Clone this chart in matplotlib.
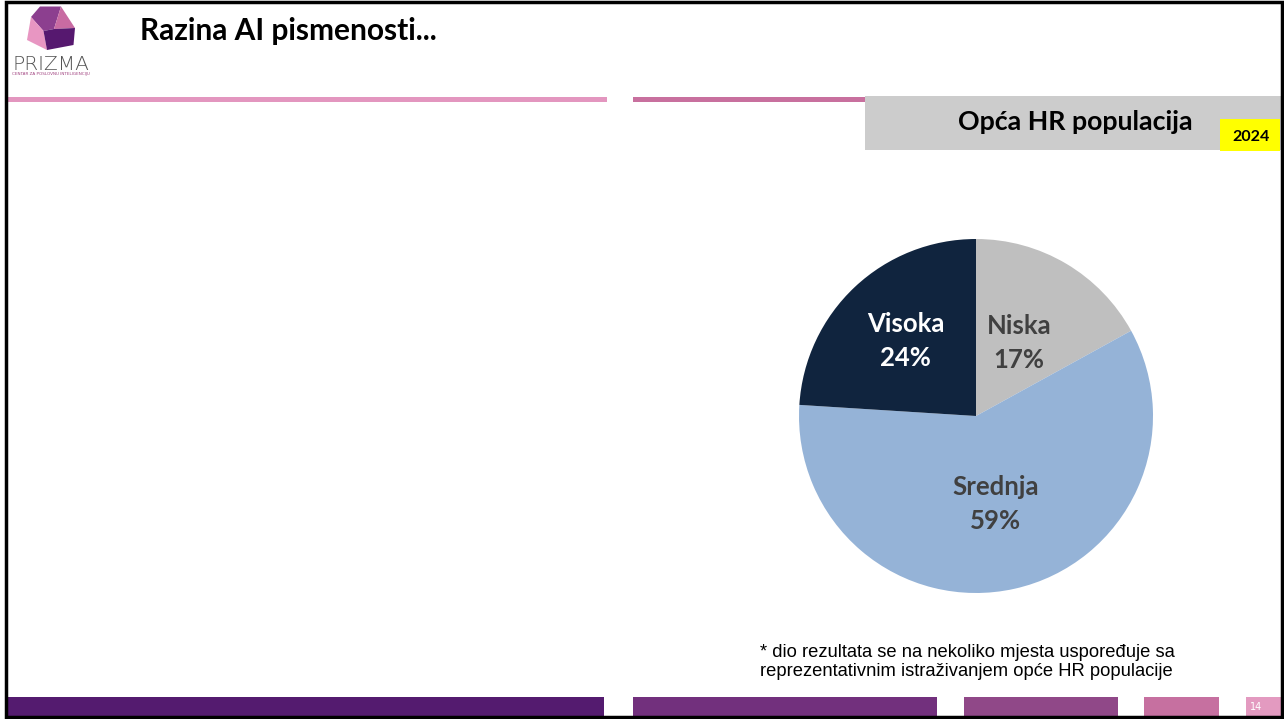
import numpy as np
import matplotlib.pyplot as plt
from matplotlib.patches import Rectangle, Polygon

# slide data
kategorije = ["Niska", "Srednja", "Visoka"]
postotci = [17, 59, 24]
boje = ["#BFBFBF", "#95B3D7", "#10243E"]
boje_teksta = ["#404040", "#404040", "white"]
udaljenost = [0.48, 0.51, 0.58]

naslov = "Razina AI pismenosti..."
podnaslov = "Opća HR populacija"
godina = "2024"
napomena = "* dio rezultata se na nekoliko mjesta uspoređuje sa\nreprezentativnim istraživanjem opće HR populacije"
stranica = "14"

W, H = 1284, 719
fig = plt.figure(figsize=(W / 100, H / 100), dpi=100)
fig.patch.set_facecolor("white")

# full-figure overlay in pixel coords (y downwards)
bg = fig.add_axes([0, 0, 1, 1])
bg.set_xlim(0, W)
bg.set_ylim(H, 0)
bg.axis("off")

def rect(x0, y0, x1, y1, c, **kw):
    bg.add_patch(Rectangle((x0, y0), x1 - x0, y1 - y0, facecolor=c, edgecolor="none", **kw))

# logo (gem made of four faces)
A, B, C, D = (40, 6.5), (61, 6.5), (75, 28), (73.5, 45)
E, F, G = (47, 50), (27, 40), (31, 17)
Hc, Ic = (43.5, 31), (54, 29)
bg.add_patch(Polygon([A, B, Ic, Hc, G], closed=True, facecolor="#8C3F8F", edgecolor="none"))
bg.add_patch(Polygon([B, C, Ic], closed=True, facecolor="#C86BA2", edgecolor="none"))
bg.add_patch(Polygon([G, Hc, E, F], closed=True, facecolor="#E896C2", edgecolor="none"))
bg.add_patch(Polygon([Hc, Ic, C, D, E], closed=True, facecolor="#56186F", edgecolor="none"))
bg.text(51, 64, "PRIZMA", fontsize=14.5, color="#555555", ha="center", va="center",
        family="DejaVu Sans", fontweight="light")
bg.text(51, 73.5, "CENTAR ZA POSLOVNU INTELIGENCIJU", fontsize=3.0, color="#A0407F",
        ha="center", va="center")

# title
bg.text(140, 31, naslov, fontsize=21.5, fontweight="bold", family="Lato", ha="left", va="center")

# header lines
rect(7, 97, 607, 102, "#E396BF")
rect(633, 97, 866, 102, "#C8709E")

# grey label box + year
rect(865, 96, 1281, 150, "#CCCCCC")
bg.text(1075, 122, podnaslov, fontsize=19.3, fontweight="bold", family="Lato", ha="center", va="center")
rect(1220, 119, 1280, 151, "#FFFF00")
bg.text(1251, 137, godina, fontsize=11.5, fontweight="bold", family="Lato", ha="center", va="center")

# footnote
bg.text(760, 662, napomena, fontsize=13.2, family="Liberation Sans", ha="left", va="center",
        linespacing=1.17)

# bottom bar segments
for x0, x1, c in [(7, 604, "#541B6F"), (633, 937, "#72307D"), (964, 1118, "#904888"),
                  (1144, 1219, "#C670A0"), (1246, 1281, "#E39AC0")]:
    rect(x0, 697, x1, 716, c)
bg.text(1256, 707, stranica, fontsize=7, color="white", ha="center", va="center")

# border
bg.add_patch(Rectangle((6, 1.5), 1276, 715, facecolor="none", edgecolor="black", linewidth=2.5))

# pie
cx, cy, r = 976, 416, 177
ax = fig.add_axes([(cx - r) / W, (H - cy - r) / H, 2 * r / W, 2 * r / H])
wedges, _ = ax.pie(postotci, colors=boje, startangle=90, counterclock=False, radius=1,
                   wedgeprops=dict(linewidth=0))
ax.set_xlim(-1, 1)
ax.set_ylim(-1, 1)
ax.set_aspect("equal")
for w, k, p, tc, d in zip(wedges, kategorije, postotci, boje_teksta, udaljenost):
    kut = np.deg2rad((w.theta1 + w.theta2) / 2)
    ax.text(d * np.cos(kut), d * np.sin(kut), f"{k}\n{p}%", ha="center", va="center",
            fontsize=18.5, fontweight="bold", family="Lato", color=tc, linespacing=1.5)

fig.savefig("out.png", dpi=100)
